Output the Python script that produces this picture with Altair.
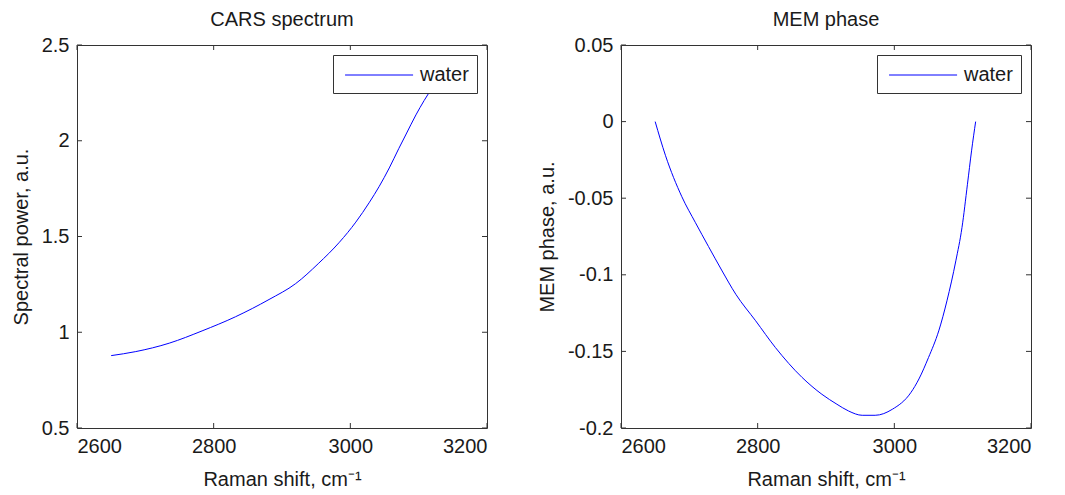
import altair as alt
import pandas as pd

# ---- data ----
cars_x = [2650, 2686, 2735, 2783, 2832, 2881, 2920, 2953, 2984, 3008, 3028, 3042,
          3057, 3071, 3081, 3096, 3108, 3115, 3120]
cars_y = [0.878, 0.899, 0.943, 1.007, 1.081, 1.171, 1.254, 1.358, 1.47, 1.575, 1.679, 1.76,
          1.858, 1.96, 2.03, 2.135, 2.21, 2.25, 2.28]

mem_x = [2650, 2665, 2689, 2709, 2728, 2748, 2768, 2797, 2826, 2865, 2894, 2916, 2933, 2953,
         2972, 2997, 3024, 3036, 3050, 3065, 3077, 3090, 3099, 3107, 3113, 3119]
mem_y = [0.0, -0.022, -0.049, -0.066, -0.0815, -0.0975, -0.1127, -0.130, -0.1475, -0.167,
         -0.178, -0.1845, -0.1889, -0.1917, -0.1917, -0.1878, -0.177, -0.168, -0.154, -0.1366,
         -0.117, -0.0909, -0.0692, -0.0409, -0.0191, 0.0]

series_name = "water"
x_ticks = [2600, 2800, 3000, 3200]
cars_ticks = [0.5, 1, 1.5, 2, 2.5]
mem_ticks = [-0.2, -0.15, -0.1, -0.05, 0, 0.05]

W, H = 410, 383
FONT = "Liberation Sans"
TXT = "#1a1a1a"
FRAME = "#333333"
TL = 5


def panel(xs, ys, yticks, ydomain, title, ytitle):
    df = pd.DataFrame({"x": xs, "y": ys, "s": [series_name] * len(xs)})
    xscale = alt.Scale(domain=[2600, 3200], nice=False, zero=False)
    yscale = alt.Scale(domain=ydomain, nice=False, zero=False)
    xaxis = alt.Axis(values=x_ticks, title="Raman shift, cm\u207b\u00b9",
                     labelExpr="'' + datum.value")
    yaxis = alt.Axis(values=yticks, title=ytitle, labelExpr="'' + datum.value")
    X = alt.X("x:Q", scale=xscale, axis=xaxis)
    Y = alt.Y("y:Q", scale=yscale, axis=yaxis)
    line = alt.Chart(df).mark_line(strokeWidth=1, clip=True, interpolate="monotone").encode(
        x=X, y=Y,
        color=alt.Color("s:N", scale=alt.Scale(domain=[series_name], range=["#0000ff"]),
                        legend=alt.Legend(title=None, orient="top-right", offset=10,
                                          strokeColor=FRAME, fillColor="white",
                                          padding=8, symbolType="M-0.7,0H5.3",
                                          symbolSize=514, symbolStrokeWidth=1,
                                          symbolStrokeColor="#0000ff",
                                          symbolFillColor="transparent",
                                          labelFontSize=20, labelFont=FONT,
                                          labelColor=TXT, labelOffset=55,
                                          cornerRadius=0)),
        order="x:Q",
    )
    xt = pd.DataFrame({"x": x_ticks})
    yt = pd.DataFrame({"y": yticks})
    bot = alt.Chart(xt).mark_rule(color=FRAME).encode(
        x=X, y=alt.value(H), y2=alt.value(H - TL))
    top = alt.Chart(xt).mark_rule(color=FRAME).encode(
        x=X, y=alt.value(0), y2=alt.value(TL))
    lft = alt.Chart(yt).mark_rule(color=FRAME).encode(
        y=Y, x=alt.value(0), x2=alt.value(TL))
    rgt = alt.Chart(yt).mark_rule(color=FRAME).encode(
        y=Y, x=alt.value(W - TL), x2=alt.value(W))
    return alt.layer(line, bot, top, lft, rgt).properties(
        width=W, height=H,
        title=alt.TitleParams(title, fontSize=20, font=FONT, fontWeight="normal",
                              color=TXT, anchor="middle", frame="group", offset=5),
    )


left = panel(cars_x, cars_y, cars_ticks, [0.5, 2.5], "CARS spectrum", "Spectral power, a.u.")
right = panel(mem_x, mem_y, mem_ticks, [-0.2, 0.05], "MEM phase", "MEM phase, a.u.")

chart = alt.hconcat(left, right, spacing=134, bounds="flush").resolve_legend(
    color="independent"
).properties(
    padding={"left": 10, "top": 9, "right": 0, "bottom": 0},
    background="white",
).configure_view(
    stroke=FRAME, strokeWidth=1
).configure_axis(
    domain=False, ticks=False, grid=False,
    labelFont=FONT, labelFontSize=20, labelColor=TXT, labelPadding=8,
    titleFont=FONT, titleFontSize=20, titleFontWeight="normal", titleColor=TXT,
).configure_axisX(
    titlePadding=13
).configure_axisY(
    titlePadding=10
)

chart.save("out.html", embed_options={"renderer": "svg", "actions": False})
